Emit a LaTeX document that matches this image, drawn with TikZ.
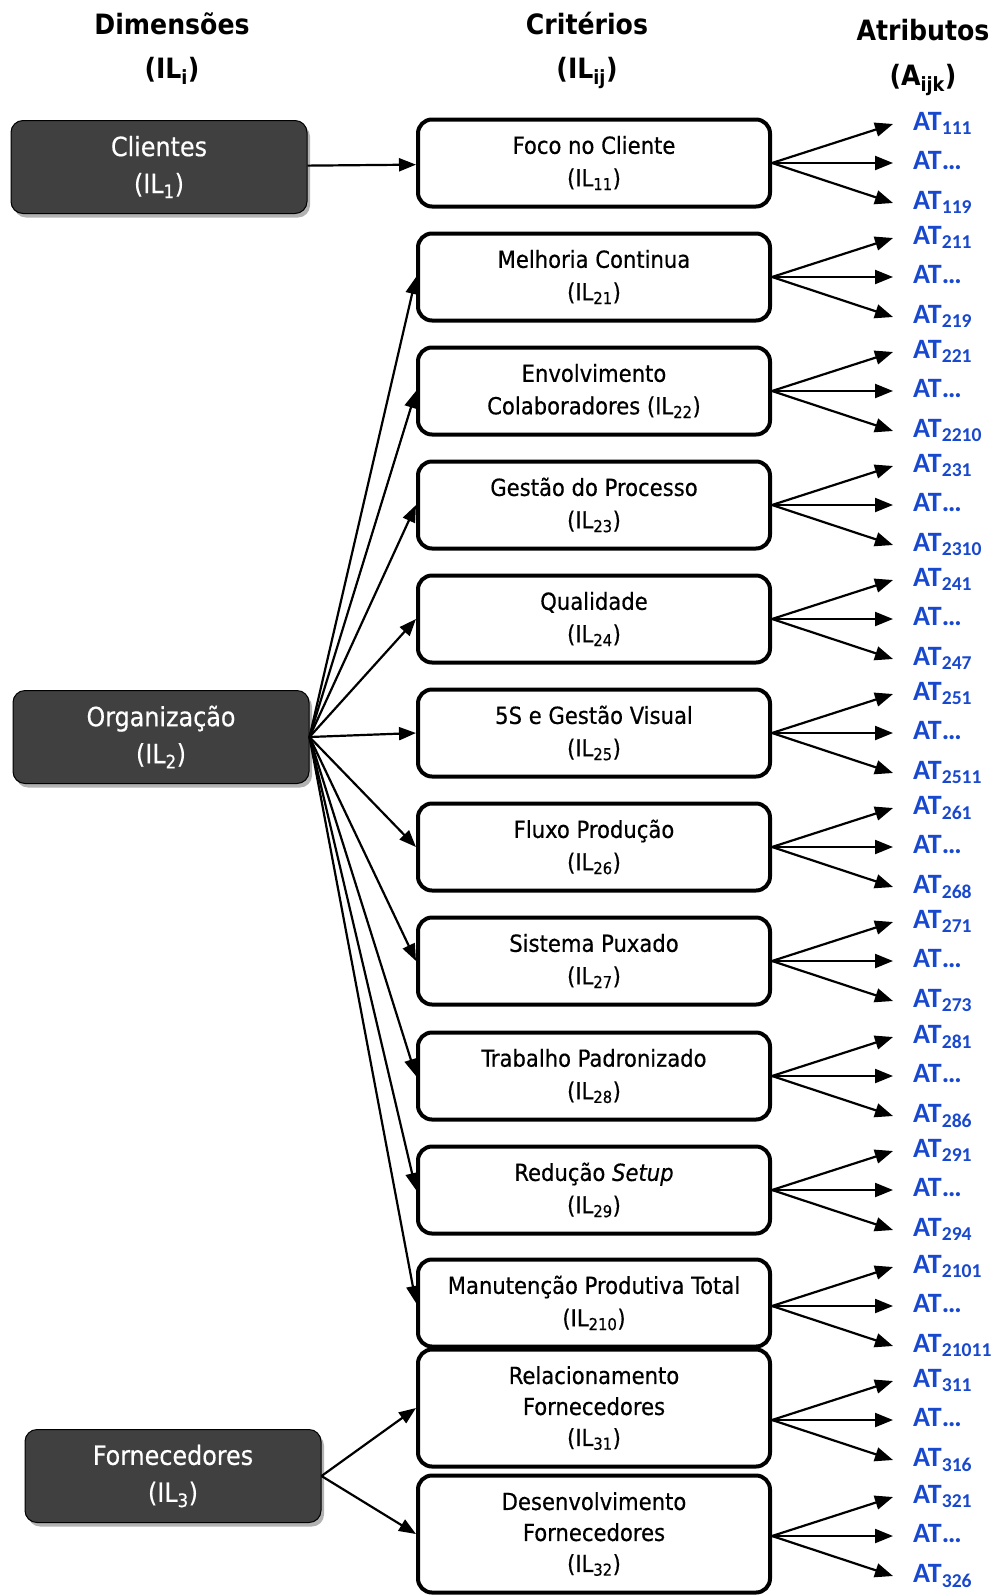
\documentclass[tikz,border=0pt]{standalone}
\usepackage{fontspec}
\setmainfont{DejaVu Sans Condensed}
\newfontfamily\boxfont{DejaVu Sans Condensed}[FakeBold=0.5]
\newfontfamily\atfont{Carlito}
\usetikzlibrary{arrows.meta,shadows}

\definecolor{dimgray}{RGB}{64,64,64}
\definecolor{atblue}{RGB}{24,72,206}

\tikzset{
  dimbox/.style={draw=black, line width=1pt, fill=dimgray, text=white,
    rounded corners=12pt, minimum width=296pt, minimum height=93pt,
    align=center, font=\boxfont\fontsize{26.5}{37}\selectfont,
    drop shadow={shadow xshift=3pt, shadow yshift=-4pt, fill=black!30, opacity=1}},
  critbox/.style={draw=black, line width=4pt, fill=white, rounded corners=14pt,
    minimum width=352pt, minimum height=87pt, align=center,
    font=\boxfont\fontsize{23.5}{32.5}\selectfont},
  head/.style={anchor=base, font=\fontsize{28}{34}\selectfont\bfseries},
  atlabel/.style={anchor=west, inner sep=0pt, text=atblue,
    font=\atfont\fontsize{28}{30}\selectfont\bfseries, text height=18pt, text depth=5pt},
  link/.style={line width=2.2pt, -{Triangle[length=17pt,width=13pt]}},
  fan/.style={line width=2.2pt, -{Triangle[length=18pt,width=14pt]}}
}

\begin{document}
\begin{tikzpicture}[x=1pt, y=-1pt]
	\useasboundingbox (0,0) rectangle (1001,1596);

	% column titles
	\node[head] (dimhead) at (172,34) {Dimensões};
	\node[head] (dimsub) at (172,78) {(IL\textsubscript{i})};
	\node[head] (crithead) at (587,34) {Critérios};
	\node[head] (critsub) at (587,78) {(IL\textsubscript{ij})};
	\node[head] (athead) at (923,40) {Atributos};
	\node[head] (atsub) at (923,85) {(A\textsubscript{ijk})};

	% dimensions
	\node[dimbox] (clientes) at (159,167) {Clientes\\(IL\textsubscript{1})};
	\node[dimbox] (organiz) at (161,737) {Organização\\(IL\textsubscript{2})};
	\node[dimbox] (fornec) at (173,1476) {Fornecedores\\(IL\textsubscript{3})};

	% criteria
	\node[critbox] (foco) at (594,163) {Foco no Cliente\\(IL\textsubscript{11})};
	\node[critbox] (melhoria) at (594,277) {Melhoria Continua\\(IL\textsubscript{21})};
	\node[critbox] (envolv) at (594,391) {Envolvimento\\Colaboradores (IL\textsubscript{22})};
	\node[critbox] (gestao) at (594,505) {Gestão do Processo\\(IL\textsubscript{23})};
	\node[critbox] (qualid) at (594,619) {Qualidade\\(IL\textsubscript{24})};
	\node[critbox] (cincos) at (594,733) {5S e Gestão Visual\\(IL\textsubscript{25})};
	\node[critbox] (fluxo) at (594,847) {Fluxo Produção\\(IL\textsubscript{26})};
	\node[critbox] (puxado) at (594,961) {Sistema Puxado\\(IL\textsubscript{27})};
	\node[critbox] (padrao) at (594,1076) {Trabalho Padronizado\\(IL\textsubscript{28})};
	\node[critbox] (setup) at (594,1190) {Redução \textit{Setup}\\(IL\textsubscript{29})};
	\node[critbox] (tpm) at (594,1303) {Manutenção Produtiva Total\\(IL\textsubscript{210})};
	\node[critbox, minimum height=117pt, font=\boxfont\fontsize{23.5}{31}\selectfont] (relac) at (594,1408) {Relacionamento\\Fornecedores\\(IL\textsubscript{31})};
	\node[critbox, minimum height=117pt, font=\boxfont\fontsize{23.5}{31}\selectfont] (desenv) at (594,1534) {Desenvolvimento\\Fornecedores\\(IL\textsubscript{32})};

	% dimension -> criteria
	\draw[link] (clientes) -- (foco);
	\foreach \crit in {melhoria,envolv,gestao,qualid,cincos,fluxo,puxado,padrao,setup,tpm}
		\draw[link] (organiz.east) -- (\crit.west);
	\draw[link] (fornec.east) -- (relac.west);
	\draw[link] (fornec.east) -- (desenv.west);

	% criteria -> attributes
	\foreach \crit/\first/\last/\dy in {foco/111/119/0, melhoria/211/219/0, envolv/221/2210/0,
		gestao/231/2310/0, qualid/241/247/0, cincos/251/2511/0, fluxo/261/268/0, puxado/271/273/0,
		padrao/281/286/0, setup/291/294/0, tpm/2101/21011/3, relac/311/316/12, desenv/321/326/2}{
		\coordinate (\crit-o) at ([shift={(0,\dy)}]\crit.east);
		\node[atlabel] (\crit-a) at ([shift={(141,-39)}]\crit-o) {AT\textsubscript{\first}};
		\node[atlabel] (\crit-b) at ([shift={(141,0)}]\crit-o) {AT\dots};
		\node[atlabel] (\crit-c) at ([shift={(141,40)}]\crit-o) {AT\textsubscript{\last}};
		\draw[fan] (\crit-o) -- ([xshift=-20pt]\crit-a.west);
		\draw[fan] (\crit-o) -- ([xshift=-20pt]\crit-b.west);
		\draw[fan] (\crit-o) -- ([xshift=-20pt]\crit-c.west);
	}
\end{tikzpicture}
\end{document}
